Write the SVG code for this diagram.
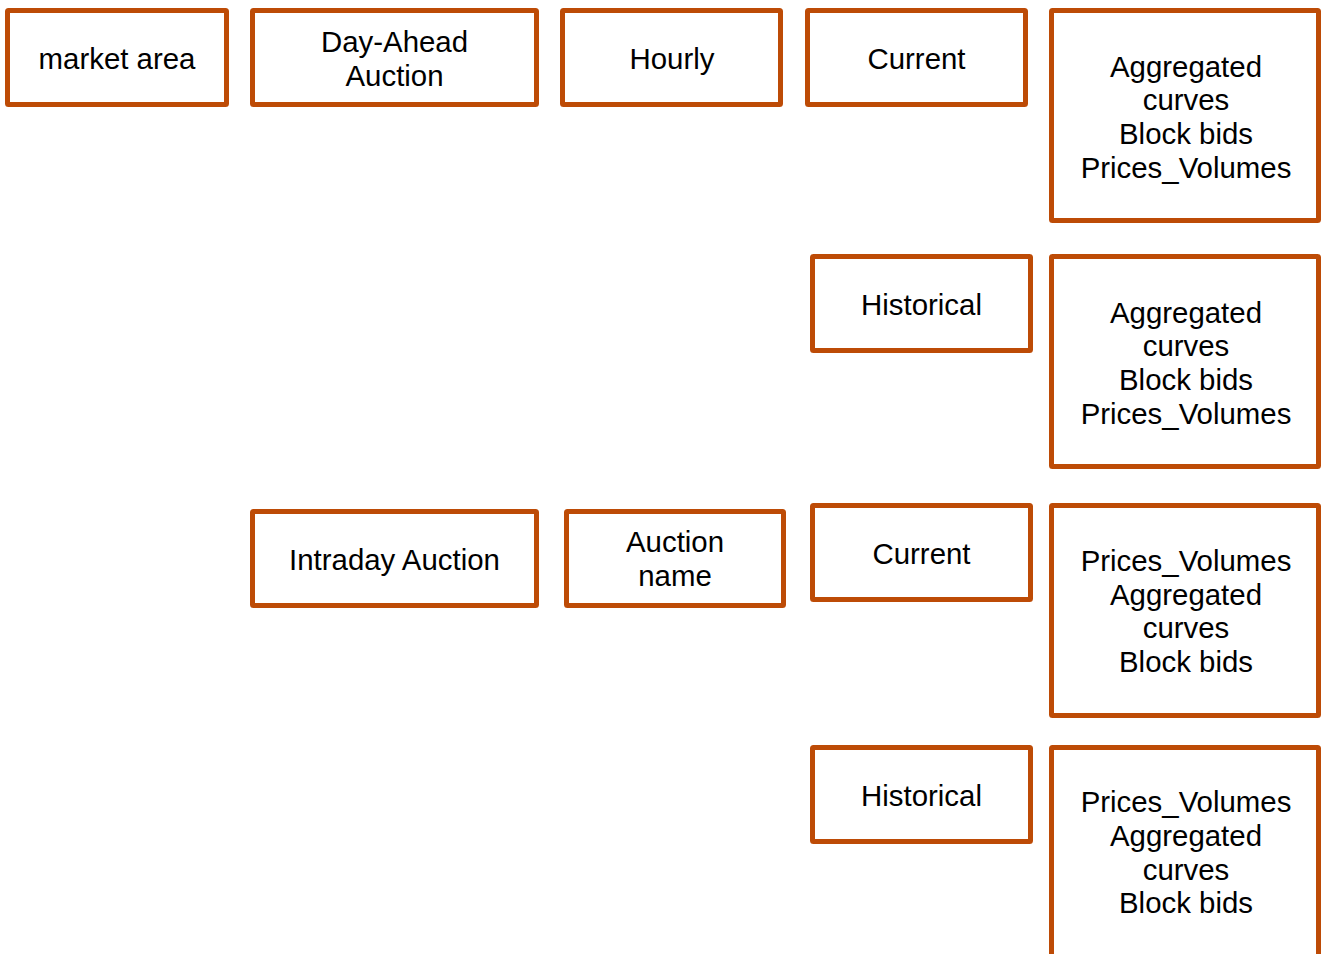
<svg xmlns="http://www.w3.org/2000/svg" width="1322" height="954" viewBox="0 0 1322 954">
<style>
.b{fill:#fff;stroke:#BD4B06;stroke-width:5;}
.t{font-family:"Liberation Sans",Arial,sans-serif;font-size:29.4px;fill:#000;text-anchor:middle;}
</style>
<rect width="1322" height="954" fill="#fff"/>
<g id="n1"><rect class="b" x="7.5" y="10.5" width="219" height="94" rx="1"/><text class="t" x="117" y="69">market area</text></g>
<g id="n2"><rect class="b" x="252.5" y="10.5" width="284" height="94" rx="1"/><text class="t" x="394.5" y="52">Day-Ahead</text><text class="t" x="394.5" y="86">Auction</text></g>
<g id="n3"><rect class="b" x="562.5" y="10.5" width="218" height="94" rx="1"/><text class="t" x="672" y="69">Hourly</text></g>
<g id="n4"><rect class="b" x="807.5" y="10.5" width="218" height="94" rx="1"/><text class="t" x="916.5" y="69">Current</text></g>
<g id="n5"><rect class="b" x="1051.5" y="10.5" width="267" height="210" rx="1"/><text class="t" x="1186" y="77">Aggregated</text><text class="t" x="1186" y="110">curves</text><text class="t" x="1186" y="144">Block bids</text><text class="t" x="1186" y="178">Prices_Volumes</text></g>
<g id="n6"><rect class="b" x="812.5" y="256.5" width="218" height="94" rx="1"/><text class="t" x="921.5" y="315">Historical</text></g>
<g id="n7"><rect class="b" x="1051.5" y="256.5" width="267" height="210" rx="1"/><text class="t" x="1186" y="323">Aggregated</text><text class="t" x="1186" y="356">curves</text><text class="t" x="1186" y="390">Block bids</text><text class="t" x="1186" y="424">Prices_Volumes</text></g>
<g id="n8"><rect class="b" x="252.5" y="511.5" width="284" height="94" rx="1"/><text class="t" x="394.5" y="570">Intraday Auction</text></g>
<g id="n9"><rect class="b" x="566.5" y="511.5" width="217" height="94" rx="1"/><text class="t" x="675" y="552">Auction</text><text class="t" x="675" y="586">name</text></g>
<g id="n10"><rect class="b" x="812.5" y="505.5" width="218" height="94" rx="1"/><text class="t" x="921.5" y="564">Current</text></g>
<g id="n11"><rect class="b" x="1051.5" y="505.5" width="267" height="210" rx="1"/><text class="t" x="1186" y="571">Prices_Volumes</text><text class="t" x="1186" y="605">Aggregated</text><text class="t" x="1186" y="638">curves</text><text class="t" x="1186" y="672">Block bids</text></g>
<g id="n12"><rect class="b" x="812.5" y="747.5" width="218" height="94" rx="1"/><text class="t" x="921.5" y="806">Historical</text></g>
<g id="n13"><rect class="b" x="1051.5" y="747.5" width="267" height="230" rx="1"/><text class="t" x="1186" y="812">Prices_Volumes</text><text class="t" x="1186" y="846">Aggregated</text><text class="t" x="1186" y="880">curves</text><text class="t" x="1186" y="913">Block bids</text></g>
</svg>
